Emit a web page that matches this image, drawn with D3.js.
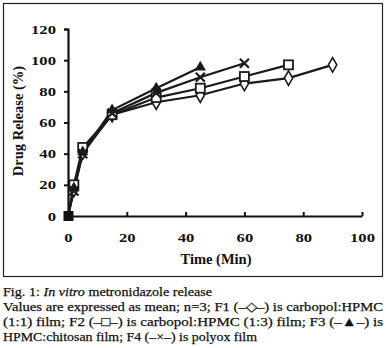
<!DOCTYPE html>
<html>
<head>
<meta charset="utf-8">
<script src="https://cdn.jsdelivr.net/npm/d3@7"></script>
<style>
  body { margin: 0; background: #fff; }
  .cap { font-family: "Liberation Serif", "Times New Roman", serif; font-size: 13px; fill: #111; stroke: #111; stroke-width: 0.25px; }
</style>
</head>
<body>
<div id="chart"></div>
<script>
// release data
const times = [0, 2, 5, 15, 30, 45, 60, 75, 90];
const f1 = [0, 17, 41, 65, 73, 77.5, 85, 88.5, 97];   // diamond
const f2 = [0, 20, 44, 65, 76, 82, 89.5, 97];          // square
const f3 = [0, 18, 41, 68, 82, 95.5];                  // triangle
const f4 = [0, 16, 40, 66, 79, 89, 98];                // cross
const yTicks = [0, 20, 40, 60, 80, 100, 120];
const xTicks = [0, 20, 40, 60, 80, 100];

const W = 386, H = 348;
const svg = d3.select("#chart").append("svg")
    .attr("width", W)
    .attr("height", H);

// frame around the plot
svg.append("rect")
    .attr("x", 3.5).attr("y", 3.5)
    .attr("width", 379).attr("height", 273)
    .attr("fill", "none")
    .attr("stroke", "#222")
    .attr("stroke-width", 1.2);

const x = d3.scaleLinear().domain([0, 100]).range([68, 362]);
const y = d3.scaleLinear().domain([0, 120]).range([216, 29]);

const font = "'Liberation Serif', 'Times New Roman', serif";

// the tick digits in the figure are drawn a bit wide, so stretch them
function widen(sel) {
  sel.each(function() {
    const t = d3.select(this);
    const tx = +t.attr("x") || 0;
    t.attr("x", 0).attr("transform", `translate(${tx},0) scale(1.28,1)`);
  });
}

// y axis
const yAxis = svg.append("g")
    .attr("transform", "translate(68,0)")
    .call(d3.axisLeft(y).tickValues(yTicks).tickSize(4).tickPadding(8));
yAxis.select(".domain").attr("stroke-width", 2.2).attr("stroke", "#111");
yAxis.selectAll(".tick line").attr("stroke-width", 2).attr("stroke", "#111");
yAxis.selectAll("text").attr("font-family", font).attr("font-weight", "bold")
    .attr("font-size", 13).attr("fill", "#111").call(widen);

// x axis
const xAxis = svg.append("g")
    .attr("transform", "translate(0,216)")
    .call(d3.axisBottom(x).tickValues(xTicks).tickSize(-4).tickPadding(17).tickSizeOuter(0));
xAxis.select(".domain").attr("stroke-width", 2.2).attr("stroke", "#111");
xAxis.selectAll(".tick line").attr("stroke-width", 2).attr("stroke", "#111");
xAxis.selectAll("text").attr("font-family", font).attr("font-weight", "bold")
    .attr("font-size", 13).attr("fill", "#111").call(widen);

// axis titles
svg.append("text")
    .attr("x", 216).attr("y", 264)
    .attr("text-anchor", "middle")
    .attr("font-family", font).attr("font-weight", "bold").attr("font-size", 14.5)
    .attr("fill", "#111")
    .text("Time (Min)");
svg.append("text")
    .attr("transform", "translate(23,121) rotate(-90)")
    .attr("text-anchor", "middle")
    .attr("font-family", font).attr("font-weight", "bold").attr("font-size", 14.5)
    .attr("fill", "#111")
    .text("Drug Release (%)");

const series = [
  { vals: f1, shape: "diamond" },
  { vals: f2, shape: "square" },
  { vals: f3, shape: "triangle" },
  { vals: f4, shape: "cross" }
];

const line = d3.line()
    .x(d => x(d[0]))
    .y(d => y(d[1]));

series.forEach(s => {
  const pts = s.vals.map((v, i) => [times[i], v]);
  svg.append("path")
      .datum(pts)
      .attr("d", line)
      .attr("fill", "none")
      .attr("stroke", "#1a1a1a")
      .attr("stroke-width", 2.2);
});

// markers
series.forEach(s => {
  const pts = s.vals.map((v, i) => [times[i], v]).filter(d => d[0] > 0);
  const g = svg.append("g");
  pts.forEach(d => {
    const cx = x(d[0]), cy = y(d[1]);
    if (s.shape === "diamond") {
      g.append("path")
          .attr("d", d3.symbol(d3.symbolDiamond, 60)())
          .attr("transform", `translate(${cx},${cy})`)
          .attr("fill", "#fff").attr("stroke", "#1a1a1a").attr("stroke-width", 1.6);
    } else if (s.shape === "square") {
      g.append("rect")
          .attr("x", cx - 4.5).attr("y", cy - 4.5)
          .attr("width", 9).attr("height", 9)
          .attr("fill", "#fff").attr("stroke", "#1a1a1a").attr("stroke-width", 1.8);
    } else if (s.shape === "triangle") {
      g.append("path")
          .attr("d", d3.symbol(d3.symbolTriangle, 55)())
          .attr("transform", `translate(${cx},${cy})`)
          .attr("fill", "#1a1a1a");
    } else {
      g.append("path")
          .attr("d", d3.symbol(d3.symbolX, 55)())
          .attr("transform", `translate(${cx},${cy})`)
          .attr("fill", "none").attr("stroke", "#1a1a1a").attr("stroke-width", 2.2);
    }
  });
});

// overlapping markers at t=0 show as a solid block
svg.append("rect")
    .attr("x", x(0) - 4.5).attr("y", y(0) - 5)
    .attr("width", 10).attr("height", 10)
    .attr("fill", "#111");

// caption
const cap = svg.append("g").attr("class", "cap");
const l1 = cap.append("text").attr("x", 3).attr("y", 296)
    .attr("textLength", 209).attr("lengthAdjust", "spacingAndGlyphs");
l1.append("tspan").text("Fig. 1: ");
l1.append("tspan").attr("font-style", "italic").text("In vitro");
l1.append("tspan").text(" metronidazole release");
cap.append("text").attr("x", 3).attr("y", 311)
    .attr("textLength", 380).attr("lengthAdjust", "spacingAndGlyphs")
    .text("Values are expressed as mean; n=3; F1 (\u2013\u25c7\u2013) is carbopol:HPMC");
cap.append("text").attr("x", 3).attr("y", 326)
    .attr("textLength", 380).attr("lengthAdjust", "spacingAndGlyphs")
    .text("(1:1) film; F2 (\u2013\u25a1\u2013) is carbopol:HPMC (1:3) film; F3 (\u2013\u25b2\u2013) is");
cap.append("text").attr("x", 3).attr("y", 341)
    .attr("textLength", 254).attr("lengthAdjust", "spacingAndGlyphs")
    .text("HPMC:chitosan film; F4 (\u2013\u00d7\u2013) is polyox film");
</script>
</body>
</html>
